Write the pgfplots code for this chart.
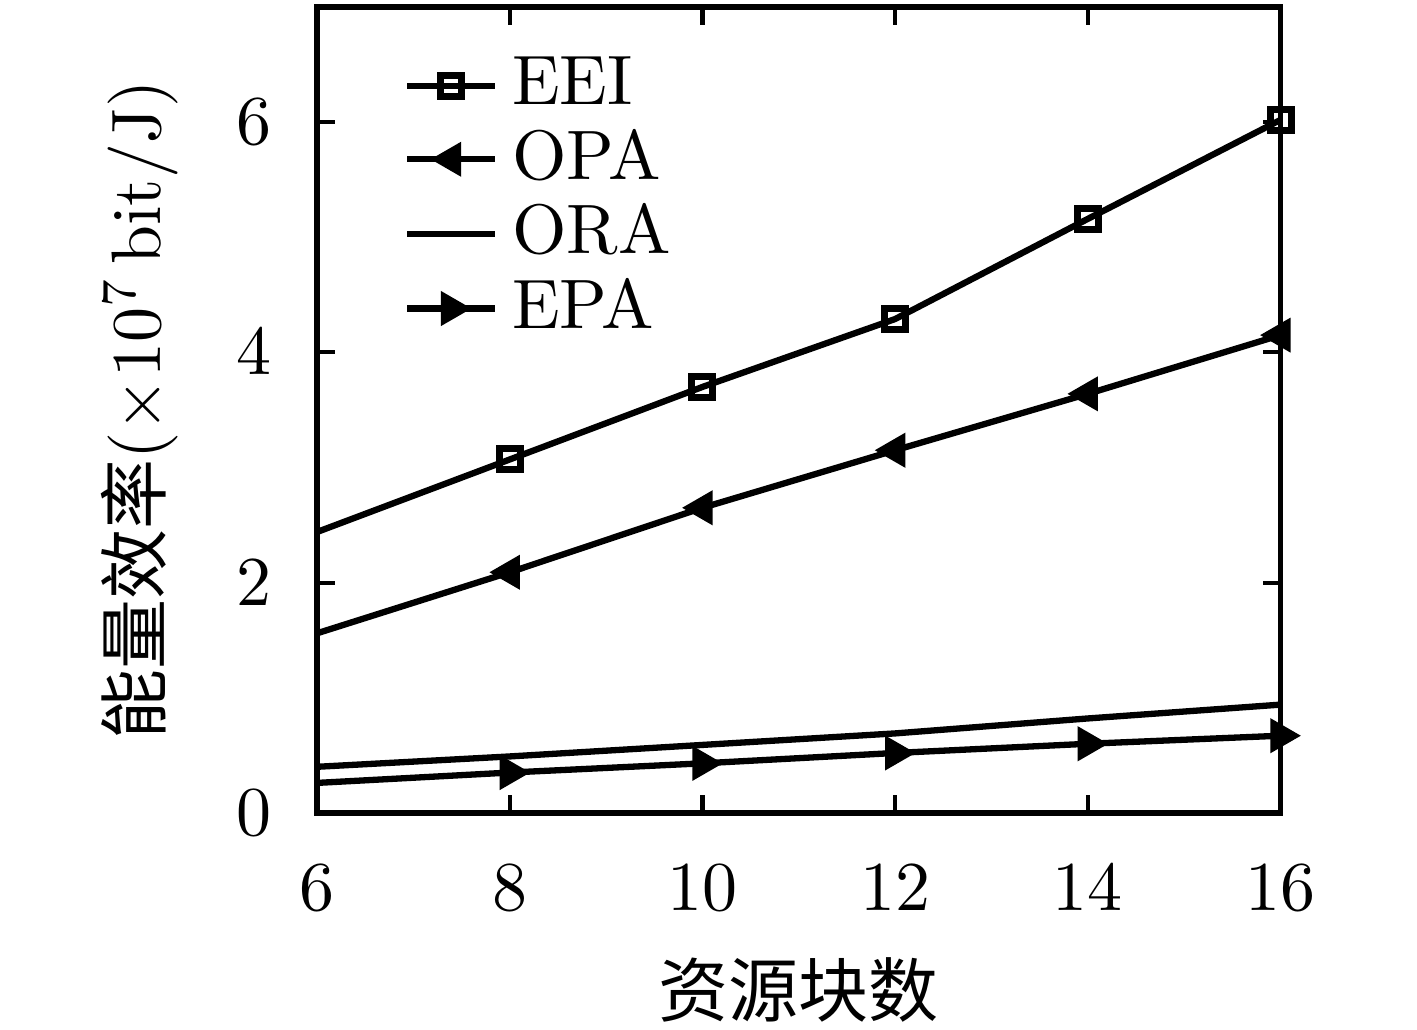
\documentclass[border=0pt]{standalone}
\usepackage{pgfplots}
\pgfplotsset{compat=1.18}
\usepackage{fontspec}
\newfontfamily\cjk{Noto Sans CJK SC}
\begin{document}
\begin{tikzpicture}
\path[use as bounding box] (-45.3pt,-31pt) rectangle (157.1pt,116.1pt);
\begin{axis}[
  at={(0,0)}, anchor=south west,
  scale only axis, width=137.6pt, height=115.1pt,
  xmin=6, xmax=16, ymin=0, ymax=7,
  xtick={6,8,10,12,14,16}, ytick={0,2,4,6},
  tick align=inside, major tick length=2.5pt,
  axis line style={line width=0.85pt},
  tick style={line width=0.6pt, black},
  xticklabel style={yshift=-4pt},
  yticklabel style={xshift=-3pt},
  xlabel={{\cjk 资源块数}},
  ylabel={{\cjk 能量效率}$(\times 10^{7}$\,bit/J$)$},
  xlabel style={at={(axis description cs:0.5,-0.22)}, anchor=center},
  ylabel style={at={(axis description cs:-0.184,0.5)}, anchor=center},
  legend style={draw=none, fill=none, at={(axis description cs:0.067,0.975)}, anchor=north west, row sep=-2pt},
  legend cell align=left,
  legend image code/.code={\draw[#1, mark repeat=2, mark phase=2] plot coordinates {(0cm,0cm) (0.22cm,0cm) (0.44cm,0cm)};},
]
\addplot[black, line width=0.9pt, mark=square, mark size=1.5pt, mark options={solid, line width=1pt, fill=white}, mark repeat=1, mark phase=2] coordinates {
(6,2.44) (8,3.07) (10,3.70) (12,4.29) (14,5.16) (16,6.02)};
\addlegendentry{EEI}
\addplot[black, line width=0.9pt, mark=triangle*, mark size=2pt, mark options={rotate=90, solid, fill=black}, mark repeat=1, mark phase=2] coordinates {
(6,1.56) (8,2.09) (10,2.65) (12,3.15) (14,3.64) (16,4.15)};
\addlegendentry{OPA}
\addplot[black, line width=0.9pt, mark=none] coordinates {
(6,0.40) (8,0.49) (10,0.59) (12,0.69) (14,0.82) (16,0.94)};
\addlegendentry{ORA}
\addplot[black, line width=0.9pt, mark=triangle*, mark size=2pt, mark options={rotate=-90, solid, fill=black}, mark repeat=1, mark phase=2] coordinates {
(6,0.26) (8,0.35) (10,0.43) (12,0.52) (14,0.60) (16,0.67)};
\addlegendentry{EPA}
\end{axis}
\end{tikzpicture}
\end{document}
